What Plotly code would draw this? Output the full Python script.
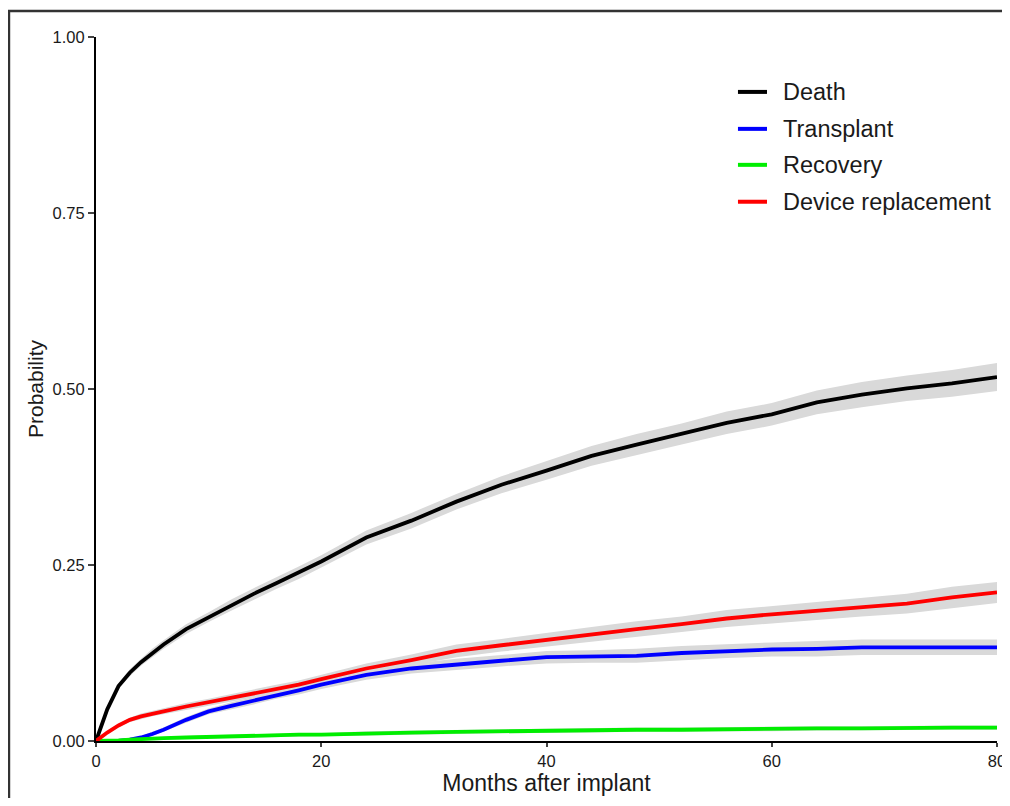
import plotly.graph_objects as go

# ---- data ----
months = [0, 1, 2, 3, 4, 5, 6, 8, 10, 12, 14, 16, 18, 20, 24, 28, 32, 36, 40,
          44, 48, 52, 56, 60, 64, 68, 72, 76, 80]

death = [0, 0.045, 0.078, 0.097, 0.112, 0.125, 0.137, 0.159, 0.176, 0.193, 0.209,
         0.224, 0.239, 0.255, 0.289, 0.313, 0.340, 0.364, 0.384, 0.405, 0.421,
         0.436, 0.452, 0.464, 0.481, 0.492, 0.501, 0.508, 0.517]
transplant = [0, 0, 0, 0.002, 0.005, 0.010, 0.016, 0.030, 0.042, 0.050, 0.057,
              0.065, 0.072, 0.080, 0.094, 0.103, 0.109, 0.114, 0.119, 0.120, 0.121,
              0.125, 0.128, 0.130, 0.131, 0.133, 0.133, 0.133, 0.133]
recovery = [0, 0, 0.001, 0.002, 0.003, 0.003, 0.004, 0.005, 0.006, 0.007, 0.008,
            0.008, 0.009, 0.009, 0.011, 0.012, 0.013, 0.014, 0.015, 0.015, 0.016,
            0.016, 0.017, 0.017, 0.018, 0.018, 0.019, 0.019, 0.019]
replacement = [0, 0.012, 0.022, 0.030, 0.035, 0.039, 0.042, 0.049, 0.055, 0.062,
               0.068, 0.074, 0.080, 0.088, 0.103, 0.115, 0.128, 0.136, 0.144, 0.152,
               0.159, 0.166, 0.174, 0.180, 0.185, 0.190, 0.195, 0.204, 0.211]

# half-widths of the grey confidence bands
death_hw = [0, 0.002, 0.004, 0.005, 0.005, 0.006, 0.006, 0.007, 0.007, 0.008, 0.008,
            0.008, 0.009, 0.009, 0.010, 0.011, 0.011, 0.012, 0.013, 0.014, 0.015,
            0.015, 0.016, 0.016, 0.017, 0.018, 0.018, 0.019, 0.020]
transplant_hw = [0, 0, 0, 0.001, 0.002, 0.003, 0.003, 0.004, 0.004, 0.005, 0.005,
                 0.005, 0.006, 0.006, 0.007, 0.007, 0.008, 0.008, 0.009, 0.009, 0.010,
                 0.010, 0.010, 0.010, 0.011, 0.011, 0.011, 0.011, 0.011]
recovery_hw = [0, 0, 0.001, 0.001, 0.001, 0.001, 0.002, 0.002, 0.002, 0.002, 0.002,
               0.002, 0.002, 0.002, 0.003, 0.003, 0.003, 0.003, 0.003, 0.003, 0.003,
               0.003, 0.003, 0.003, 0.003, 0.003, 0.003, 0.003, 0.003]
replacement_hw = [0, 0.002, 0.003, 0.003, 0.004, 0.004, 0.004, 0.005, 0.005, 0.005,
                  0.006, 0.006, 0.006, 0.006, 0.007, 0.008, 0.009, 0.009, 0.010, 0.010,
                  0.011, 0.011, 0.012, 0.012, 0.013, 0.013, 0.014, 0.015, 0.015]

series_names = ["Death", "Transplant", "Recovery", "Device replacement"]
series_vals = [death, transplant, recovery, replacement]
series_hw = [death_hw, transplant_hw, recovery_hw, replacement_hw]
series_colors = ["#000000", "#0000ff", "#00ee00", "#ff0000"]

x_ticks = [0, 20, 40, 60, 80]
y_ticks = [0, 0.25, 0.5, 0.75, 1.0]
y_ticklabels = ["0.00", "0.25", "0.50", "0.75", "1.00"]

FONT = "Liberation Sans, Arial, sans-serif"
BAND = "#d9d9d9"
TEXT = "#1a1a1a"

fig = go.Figure()

# confidence bands
for name, vals, hw in zip(series_names, series_vals, series_hw):
    upper = [v + h for v, h in zip(vals, hw)]
    lower = [max(v - h, 0) for v, h in zip(vals, hw)]
    fig.add_trace(go.Scatter(
        x=months + months[::-1], y=upper + lower[::-1],
        fill="toself", fillcolor=BAND, line=dict(color=BAND, width=0),
        mode="lines", hoverinfo="skip", showlegend=False))

# estimate lines
for name, vals, col in zip(series_names, series_vals, series_colors):
    fig.add_trace(go.Scatter(
        x=months, y=vals, mode="lines", name=name, showlegend=False,
        line=dict(color=col, width=3.8)))

# legend drawn in paper coordinates (inside the plot, top-right)
shapes = []
annotations = []
leg_y = [0.922, 0.8695, 0.8184, 0.766]
for name, col, yy in zip(series_names, series_colors, leg_y):
    shapes.append(dict(type="line", xref="paper", yref="paper",
                       x0=0.7125, x1=0.7447, y0=yy, y1=yy,
                       line=dict(color=col, width=4)))
    annotations.append(dict(xref="paper", yref="paper", x=0.7605, y=yy,
                            xanchor="left", yanchor="middle", showarrow=False,
                            text=name, font=dict(family=FONT, size=23.5, color=TEXT)))

# outer frame
shapes.append(dict(type="rect", xref="paper", yref="paper",
                   x0=-0.0966, x1=1.3, y0=-0.3, y1=1.037,
                   line=dict(color="#333333", width=2.5), layer="below"))

fig.update_layout(
    width=1010, height=790,
    margin=dict(l=88, r=13, t=29, b=56),
    paper_bgcolor="white", plot_bgcolor="white",
    font=dict(family=FONT, color=TEXT, size=16),
    showlegend=False,
    xaxis=dict(
        range=[0, 80], tickvals=x_ticks, ticks="outside", ticklen=4, tickwidth=2,
        showline=True, linecolor="black", linewidth=2, showgrid=False,
        zeroline=False, tickfont=dict(size=16.5),
        title=dict(text="Months after implant", font=dict(size=23), standoff=0)),
    yaxis=dict(
        range=[0, 1.0], tickvals=y_ticks, ticktext=y_ticklabels, ticks="outside",
        ticklen=6, tickwidth=2, showline=True, linecolor="black", linewidth=2,
        showgrid=False, zeroline=False, tickfont=dict(size=16.5),
        title=dict(text="Probability", font=dict(size=21), standoff=3)),
    shapes=shapes,
    annotations=annotations,
)

fig.write_html("out.html")
